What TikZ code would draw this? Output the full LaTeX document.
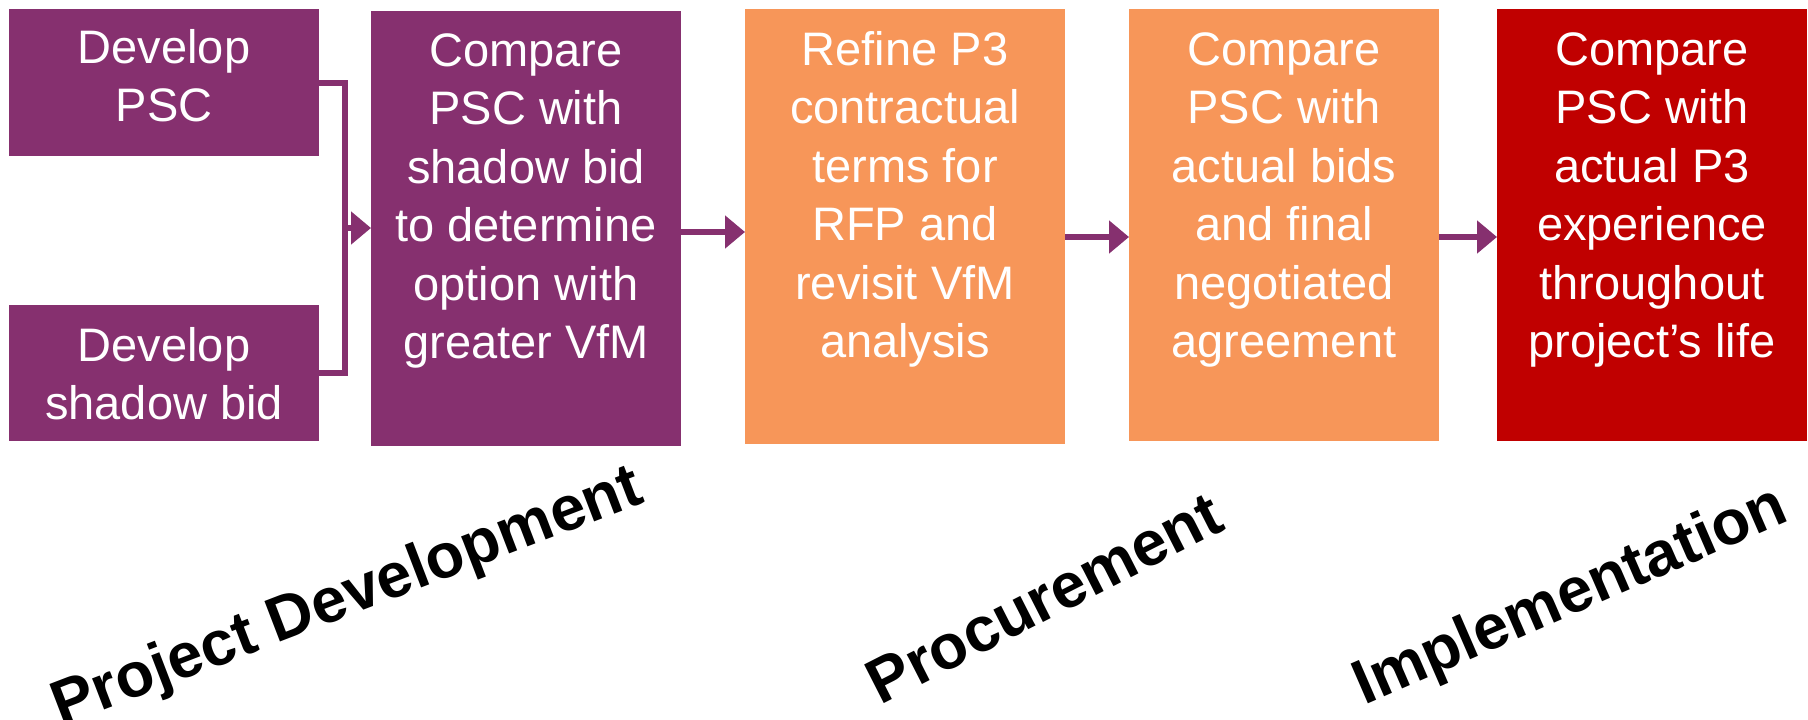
\documentclass[tikz,border=0pt]{standalone}
\usepackage{fontspec}
\setmainfont{Liberation Sans}
\usetikzlibrary{arrows.meta}
\definecolor{plum}{HTML}{86306F}
\definecolor{apricot}{HTML}{F79659}
\definecolor{crimson}{HTML}{C00000}
\tikzset{
  box/.style={rectangle, draw=none, inner sep=0pt, anchor=north west},
  boxtext/.style={anchor=north, inner sep=0pt, align=center, text=white,
    font=\fontsize{47}{58.5}\selectfont},
  phase/.style={inner sep=0pt, font=\fontsize{63}{70}\selectfont\bfseries},
  conn/.style={draw=plum, line width=6pt},
  flow/.style={conn, -{Triangle[length=20pt,width=32pt]}},
}
\newcommand{\firstline}{\rule{0pt}{36pt}}
\begin{document}
\begin{tikzpicture}[x=1pt,y=-1pt]
\useasboundingbox (0,0) rectangle (1808,720);

% boxes
\node[box, fill=plum, minimum width=310pt, minimum height=147pt] (b1) at (9,9) {};
\node[box, fill=plum, minimum width=310pt, minimum height=136pt] (b2) at (9,305) {};
\node[box, fill=plum, minimum width=310pt, minimum height=435pt] (b3) at (371,11) {};
\node[box, fill=apricot, minimum width=320pt, minimum height=435pt] (b4) at (745,9) {};
\node[box, fill=apricot, minimum width=310pt, minimum height=432pt] (b5) at (1129,9) {};
\node[box, fill=crimson, minimum width=310pt, minimum height=432pt] (b6) at (1497,9) {};

% box texts
\node[boxtext] (t1) at (164,27) {\firstline Develop\\PSC};
\node[boxtext] (t2) at (164,325) {\firstline Develop\\shadow bid};
\node[boxtext] (t3) at (526,30) {\firstline Compare\\PSC with\\shadow bid\\to determine\\option with\\greater VfM};
\node[boxtext] (t4) at (905,29) {\firstline Refine P3\\contractual\\terms for\\RFP and\\revisit VfM\\analysis};
\node[boxtext] (t5) at (1284,29) {\firstline Compare\\PSC with\\actual bids\\and final\\negotiated\\agreement};
\node[boxtext] (t6) at (1652,29) {\firstline Compare\\PSC with\\actual P3\\experience\\throughout\\project’s life};

% bracket joining the two development boxes
\coordinate (j) at (345,228);
\draw[conn] (b1.east) -- (b1.east -| j) -- (b2.east -| j) -- (b2.east);
\draw[flow] (j) -- (b3.west |- j);

% flow arrows between stages
\draw[flow] (b3.east |- 0,232) -- (b4.west |- 0,232);
\draw[flow] (b4.east |- 0,237) -- (b5.west |- 0,237);
\draw[flow] (b5.east |- 0,237) -- (b6.west |- 0,237);

% phase labels
\node[phase, rotate=21] (p1) at (348,599) {Project Development};
\node[phase, rotate=27] (p2) at (1044,598) {Procurement};
\node[phase, rotate=23.5] (p3) at (1571,598) {Implementation};
\end{tikzpicture}
\end{document}
